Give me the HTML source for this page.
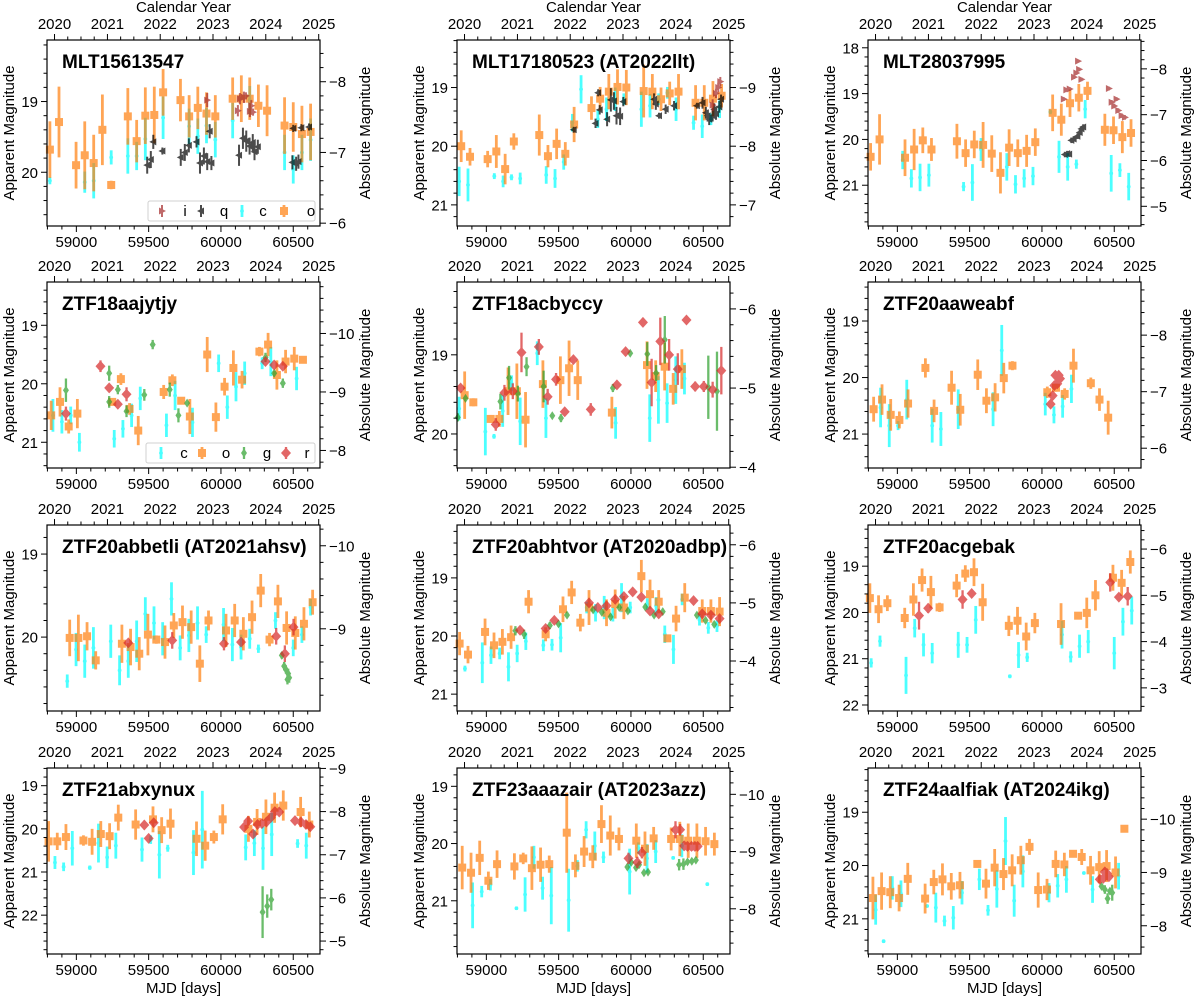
<!DOCTYPE html>
<html><head><meta charset="utf-8"><title>Light curves</title>
<style>
html,body{margin:0;padding:0;background:#fff;}
svg{display:block;font-family:"Liberation Sans","DejaVu Sans",sans-serif;}
</style></head>
<body>
<svg id="fig" xmlns="http://www.w3.org/2000/svg" width="1200" height="997" viewBox="0 0 1200 997"></svg>
<script>
// ---------- data: [MJD, apparent mag, error] ----------
const P1_o=[[58817,19.68,.4],[58880,19.29,.5],[58998,19.9,.33],[59058,19.76,.48],[59120,19.87,.4],[59180,19.4,.5],[59241,20.18,.06],[59356,19.21,.4],[59417,19.56,.3],[59477,19.2,.4],[59539,19.19,.4],[59600,18.87,.33],[59720,18.98,.3],[59780,19.21,.3],[59840,19.09,.3],[59900,19.17,.3],[59961,19.21,.3],[60081,18.96,.3],[60141,18.96,.33],[60199,18.96,.3],[60259,19.06,.3],[60319,19.13,.36],[60440,19.34,.4],[60500,19.36,.35],[60560,19.46,.4],[60620,19.43,.4]];
const P1_c=[[58817,20.12,.05],[59058,20.14,.15],[59120,20.12,.25],[59241,19.79,.1],[59356,19.77,.25],[59417,19.77,.2],[59477,19.53,.3],[59600,19.23,.3],[59780,19.35,.25],[59840,19.49,.25],[59900,19.34,.25],[59961,19.54,.25],[60081,19.27,.25],[60199,18.98,.2],[60440,19.72,.25],[60500,19.96,.2],[60560,19.72,.25],[60620,19.54,.3]];
const P1_q=[[59490,19.9,.12],[59515,19.82,.12],[59532,19.57,.1],[59595,19.7,.05],[59722,19.79,.12],[59750,19.72,.12],[59778,19.62,.1],[59831,19.57,.08],[59855,19.87,.15],[59882,19.77,.12],[59905,19.85,.12],[59922,19.42,.1],[59934,19.87,.1],[60125,19.76,.15],[60152,19.52,.15],[60175,19.56,.15],[60198,19.63,.12],[60220,19.58,.12],[60232,19.71,.12],[60255,19.64,.1],[60494,19.86,.1],[60520,19.88,.1],[60536,19.85,.1],[60500,19.38,.05],[60556,19.37,.05],[60609,19.36,.05]];
const P1_i=[[59905,18.98,.1],[60117,19.13,.08],[60131,18.96,.08],[60159,18.94,.08],[60173,18.92,.05],[60200,19.14,.08],[60222,19.15,.05],[60210,19.06,.08]];

const P2_o=[[58826,20.0,.27],[58887,20.18,.15],[59009,20.22,.14],[59069,20.09,.28],[59130,20.39,.26],[59190,19.92,.14],[59366,19.81,.35],[59426,20.17,.19],[59486,19.96,.26],[59546,20.13,.2],[59607,19.63,.3],[59727,19.35,.2],[59787,19.19,.2],[59847,19.07,.3],[59907,18.99,.3],[59968,19.0,.3],[60088,19.06,.45],[60148,19.07,.3],[60208,19.2,.2],[60268,19.1,.2],[60329,19.07,.3],[60447,19.26,.3],[60507,19.26,.3],[60567,19.19,.3],[60627,19.14,.2]];
const P2_c=[[58812,20.6,.25],[58873,20.66,.28],[59055,20.51,.05],[59116,20.6,.1],[59174,20.53,.05],[59234,20.55,.1],[59414,20.49,.15],[59475,20.55,.16],[59535,20.27,.13],[59595,19.6,.15],[59655,19.03,.24],[59771,19.54,.15],[59831,19.37,.2],[59891,19.2,.2],[59951,19.2,.1],[60072,19.37,.3],[60132,19.31,.2],[60192,19.2,.1],[60252,19.09,.1],[60312,19.37,.2],[60433,19.6,.12],[60493,19.66,.2],[60553,19.54,.1],[60613,19.37,.15]];
const P2_q=[[59604,19.72,.05],[59755,19.61,.08],[59773,19.09,.06],[59784,19.38,.08],[59835,19.54,.12],[59861,19.21,.2],[59882,19.23,.15],[59900,19.48,.15],[59925,19.49,.15],[59947,19.24,.08],[60160,19.2,.1],[60172,19.28,.1],[60194,19.48,.05],[60240,19.37,.08],[60298,19.31,.08],[60456,19.31,.05],[60495,19.26,.1],[60518,19.43,.1],[60530,19.48,.1],[60541,19.54,.1],[60565,19.48,.1],[60576,19.37,.1],[60588,19.45,.1],[60611,19.33,.1],[60623,19.2,.08]];
const P2_i=[[60565,19.3,.1],[60588,19.1,.08],[60604,19.0,.08],[60618,18.9,.08]];

const P3_o=[[58815,20.38,.3],[58877,20.0,.55],[59053,20.4,.4],[59116,20.22,.45],[59176,20.02,.28],[59236,20.22,.25],[59412,20.04,.38],[59472,20.3,.3],[59532,20.11,.3],[59593,20.12,.5],[59653,20.31,.4],[59713,20.73,.45],[59773,20.18,.4],[59833,20.3,.3],[59894,20.25,.35],[59954,20.06,.3],[60074,19.42,.4],[60134,19.57,.35],[60194,19.21,.3],[60255,19.09,.3],[60315,18.94,.2],[60435,19.79,.35],[60495,19.8,.3],[60556,19.95,.35],[60616,19.86,.3]];
const P3_c=[[59037,20.45,.2],[59097,20.85,.2],[59157,20.83,.3],[59218,20.78,.25],[59458,21.03,.1],[59519,20.94,.4],[59579,20.22,.25],[59757,20.6,.3],[59817,20.98,.2],[59877,20.85,.2],[59938,20.8,.2],[60058,19.4,.05],[60118,20.38,.35],[60178,20.6,.3],[60238,20.54,.1],[60299,19.34,.2],[60479,20.74,.4],[60539,20.67,.15],[60600,21.03,.3]];
const P3_q=[[60158,20.33,.06],[60174,20.31,.06],[60188,20.32,.06],[60203,20.02,.06],[60219,19.99,.06],[60245,19.93,.06],[60261,19.85,.06],[60273,19.77,.06],[60285,19.73,.06]];
const P3_i=[[60151,19.12,.04],[60169,18.92,.04],[60192,18.9,.04],[60222,18.64,.04],[60238,18.55,.04],[60250,18.29,.03],[60257,18.47,.04],[60273,18.69,.04],[60463,18.89,.04],[60482,19.19,.05],[60500,19.27,.05],[60516,19.12,.04],[60528,19.37,.05],[60551,19.48,.05],[60574,19.52,.05]];

const P4_c=[[58838,20.54,.28],[58900,20.65,.2],[58961,20.54,.15],[59021,21.0,.16],[59262,20.94,.15],[59322,20.77,.15],[59382,20.54,.2],[59442,20.25,.2],[59623,20.71,.2],[59683,20.2,.25],[59803,20.66,.25],[59984,19.65,.15],[60044,20.4,.2],[60104,20.05,.25],[60164,19.82,.2],[60285,19.65,.1],[60345,19.62,.25],[60523,19.91,.2]];
const P4_o=[[58826,20.54,.25],[58887,20.31,.25],[58947,20.73,.12],[59007,20.51,.25],[59248,20.31,.05],[59308,19.92,.1],[59368,20.43,.1],[59428,20.8,.25],[59604,20.14,.12],[59664,19.94,.1],[59725,20.29,.03],[59785,20.56,.3],[59905,19.5,.3],[59965,20.57,.25],[60025,20.05,.15],[60086,19.73,.3],[60146,19.93,.15],[60266,19.45,.08],[60326,19.33,.2],[60387,19.85,.25],[60447,19.62,.2],[60507,19.57,.2],[60567,19.59,.03]];
const P4_g=[[58928,20.11,.2],[59227,19.82,.13],[59227,20.31,.1],[59287,20.1,.08],[59347,20.47,.1],[59470,20.19,.1],[59528,19.33,.08],[59646,20.1,.12],[59706,20.54,.12],[59766,20.33,.03],[60308,19.55,.08],[60368,19.82,.05],[60428,19.99,.08]];
const P4_r=[[58928,20.51,.12],[59167,19.7,.1],[59227,20.07,.05],[59287,20.35,.05],[59347,20.18,.12],[60308,19.62,.05],[60368,19.68,.05],[60428,19.7,.07]];

const P5_r=[[58822,19.42,.05],[59065,19.88,.08],[59125,19.48,.1],[59183,19.46,.1],[59243,18.97,.25],[59363,18.9,.1],[59424,19.53,.1],[59482,19.31,.08],[59542,19.72,.05],[59602,19.06,.05],[59722,19.69,.08],[59903,19.38,.05],[59963,18.96,.05],[60083,18.59,.05],[60143,19.35,.3],[60203,18.83,.3],[60264,19.0,.2],[60324,19.18,.2],[60384,18.56,.05],[60444,19.4,.06],[60504,19.4,.07],[60565,19.44,.1],[60625,19.2,.3]];
const P5_o=[[58850,19.51,.3],[58910,19.6,.05],[59030,19.81,.05],[59090,19.81,.1],[59150,19.46,.3],[59211,19.46,.35],[59271,19.82,.35],[59391,19.37,.3],[59512,19.32,.3],[59572,19.17,.35],[59632,19.32,.25],[59868,19.73,.2],[60111,19.13,.3],[60171,19.27,.2],[60233,19.15,.3],[60292,19.43,.2],[60352,19.18,.25]];
const P5_g=[[58803,19.79,.05],[58856,19.55,.03],[59097,19.59,.1],[59157,19.29,.15],[59218,19.49,.1],[59278,19.15,.12],[59396,19.4,.2],[59456,19.77,.03],[59516,19.8,.05],[59875,19.42,.05],[59995,18.98,.03],[60113,18.99,.15],[60174,19.23,.1],[60234,18.81,.3],[60535,19.41,.4],[60595,19.46,.5]];
const P5_c=[[58812,19.68,.15],[58993,19.97,.3],[59053,20.03,.03],[59113,19.71,.2],[59174,19.36,.1],[59234,19.84,.3],[59352,18.98,.15],[59412,19.8,.25],[59894,19.86,.2],[60130,19.8,.3],[60190,19.57,.3],[60250,19.61,.25],[60310,19.32,.3],[60370,19.3,.2]];

const P6_o=[[58836,20.56,.22],[58894,20.39,.27],[58954,20.66,.28],[59014,20.75,.15],[59074,20.46,.25],[59194,19.83,.17],[59254,20.59,.2],[59375,20.18,.3],[59435,20.57,.28],[59556,19.95,.27],[59616,20.41,.22],[59676,20.35,.25],[59736,20.01,.27],[59796,19.79,.08],[60037,20.26,.1],[60097,20.18,.07],[60157,20.29,.1],[60218,19.79,.3],[60338,20.1,.1],[60398,20.39,.2],[60458,20.71,.3]];
const P6_c=[[58884,20.53,.35],[58944,20.85,.38],[59005,20.85,.08],[59065,20.39,.35],[59241,20.85,.3],[59301,20.91,.3],[59421,20.56,.35],[59662,20.56,.3],[59722,19.52,.45],[60023,20.47,.2],[60083,20.66,.15],[60143,20.51,.2],[60204,20.2,.25]];
const P6_r=[[60060,20.47,.03],[60074,20.32,.03],[60086,20.14,.03],[60093,19.96,.03],[60106,20.11,.03],[60116,19.96,.03],[60125,20.02,.03]];

const P7_o=[[58954,20.01,.22],[59014,20.01,.28],[59074,19.99,.17],[59134,20.28,.11],[59315,20.08,.23],[59375,20.12,.22],[59435,20.2,.2],[59495,19.97,.25],[59553,20.03,.05],[59613,20.06,.2],[59674,19.86,.15],[59734,19.82,.2],[59794,19.88,.2],[59854,20.32,.22],[59914,19.8,.12],[60035,19.92,.2],[60095,19.8,.2],[60155,19.96,.2],[60215,19.76,.2],[60275,19.44,.2],[60336,20.03,.08],[60394,19.57,.2],[60454,19.89,.2],[60514,19.95,.2],[60574,19.84,.2],[60634,19.58,.15]];
const P7_c=[[58937,20.53,.08],[58998,20.15,.2],[59058,20.29,.2],[59118,20.13,.25],[59238,20.05,.2],[59299,20.4,.18],[59359,20.29,.2],[59417,20.05,.25],[59477,19.72,.2],[59537,19.83,.2],[59597,20.02,.2],[59658,19.54,.2],[59718,20.13,.15],[59778,19.98,.2],[59838,19.83,.2],[59898,19.97,.1],[60018,19.85,.2],[60079,20.09,.2],[60139,20.12,.15],[60199,20.02,.12],[60259,20.14,.05],[60377,19.8,.1],[60500,20.13,.1],[60560,19.97,.1],[60620,19.64,.1]];
const P7_r=[[59359,20.07,.03],[59663,20.04,.1],[60021,20.08,.08],[60139,20.06,.05],[60382,19.99,.1],[60442,20.2,.1],[60502,19.88,.1]];
const P7_g=[[60421,20.22,.04],[60437,20.35,.05],[60449,20.39,.05],[60460,20.51,.06],[60465,20.44,.06],[60472,20.49,.06]];

const P8_o=[[58815,20.13,.2],[58873,20.32,.15],[58991,19.93,.23],[59053,20.16,.22],[59111,20.1,.22],[59171,20.02,.2],[59292,19.41,.2],[59410,19.97,.12],[59530,19.54,.22],[59590,19.25,.2],[59650,19.77,.15],[59710,19.51,.3],[59831,19.6,.23],[59891,19.45,.25],[59951,19.51,.2],[60072,18.97,.28],[60132,19.28,.25],[60192,19.41,.2],[60252,20.04,.05],[60312,19.7,.22],[60372,19.34,.25],[60493,19.57,.2],[60553,19.57,.2],[60613,19.58,.25]];
const P8_c=[[58852,20.56,.05],[58972,20.46,.35],[59032,20.33,.15],[59092,20.3,.1],[59153,20.53,.25],[59213,20.3,.15],[59273,20.09,.15],[59394,20.16,.1],[59454,20.15,.1],[59514,20.03,.25],[59694,19.51,.1],[59755,19.6,.15],[59815,19.51,.2],[59875,19.63,.12],[59935,19.34,.25],[59995,19.51,.1],[60113,19.45,.1],[60174,19.48,.15],[60234,19.97,.15],[60294,20.23,.25],[60354,19.37,.1],[60474,19.72,.1],[60535,19.86,.1],[60595,19.83,.1]];
const P8_g=[[59201,19.91,.08],[59261,19.97,.08],[59439,19.82,.06],[59499,19.79,.05],[59558,19.64,.05],[59738,19.55,.05],[59798,19.59,.05],[59859,19.67,.05],[59919,19.51,.03],[59979,19.57,.05],[60099,19.5,.03],[60160,19.64,.05],[60220,19.58,.05],[60456,19.64,.05],[60516,19.73,.05],[60576,19.8,.05]];
const P8_r=[[59233,19.9,.05],[59410,19.87,.05],[59470,19.73,.05],[59710,19.43,.05],[59771,19.51,.05],[59831,19.48,.05],[59891,19.37,.05],[59951,19.32,.05],[60012,19.24,.03],[60072,19.33,.05],[60132,19.57,.05],[60192,19.62,.05],[60433,19.39,.05],[60493,19.62,.05],[60553,19.64,.05],[60613,19.7,.05]];

const P9_o=[[58810,19.69,.32],[58870,19.93,.3],[58931,19.8,.17],[59051,20.12,.22],[59111,19.72,.35],[59171,19.3,.25],[59232,19.56,.35],[59292,19.89,.1],[59410,19.42,.25],[59470,19.16,.18],[59530,19.13,.3],[59590,19.78,.4],[59771,20.29,.22],[59831,20.18,.3],[59891,20.52,.3],[59951,20.23,.22],[60132,20.25,.45],[60250,20.07,.03],[60310,20.01,.33],[60370,19.63,.33],[60491,19.25,.28],[60551,19.36,.28],[60611,18.91,.25]];
const P9_c=[[58819,21.09,.1],[58880,20.62,.12],[59060,21.36,.4],[59120,20.34,.2],[59181,20.7,.25],[59241,20.88,.22],[59421,20.7,.28],[59482,20.7,.17],[59542,20.16,.3],[59778,21.38,.04],[59838,20.92,.28],[59898,20.97,.1],[60139,20.48,.3],[60199,20.96,.12],[60260,20.73,.25],[60320,20.63,.25],[60500,20.88,.35],[60560,20.2,.3],[60621,19.96,.3]];
const P9_r=[[59150,20.07,.3],[59213,19.91,.1],[59451,19.72,.2],[59514,19.59,.05],[60472,19.35,.2],[60532,19.67,.05],[60593,19.65,.2]];

const P10_o=[[58808,20.29,.47],[58868,20.29,.2],[58928,20.19,.3],[59049,20.27,.12],[59109,20.3,.3],[59169,20.12,.3],[59230,20.17,.3],[59290,19.74,.3],[59410,19.9,.35],[59530,19.78,.3],[59590,20.03,.3],[59651,19.88,.35],[59831,20.23,.4],[59891,20.39,.35],[59951,20.19,.15],[60012,19.78,.35],[60190,20.0,.3],[60250,19.84,.3],[60311,19.72,.4],[60371,19.51,.35],[60431,19.46,.35],[60551,19.61,.35],[60611,19.9,.3]];
const P10_c=[[58852,20.78,.15],[58912,20.88,.1],[58972,20.45,.4],[59093,20.9,.05],[59153,20.33,.45],[59213,20.66,.25],[59273,20.39,.3],[59454,20.48,.28],[59514,20.25,.1],[59574,20.6,.55],[59632,20.45,.08],[59810,20.55,.52],[59871,20.02,.9],[60171,20.43,.3],[60231,20.33,.3],[60291,20.45,.5],[60351,20.13,.5],[60530,20.34,.1],[60590,20.39,.3]];
const P10_r=[[59470,19.91,.1],[59500,20.22,.1],[59535,19.86,.08],[60160,19.96,.08],[60188,19.82,.1],[60222,20.12,.1],[60253,19.9,.1],[60283,19.88,.1],[60315,19.84,.1],[60345,19.74,.1],[60373,19.6,.1],[60403,19.61,.08],[60512,19.81,.07],[60553,19.84,.1],[60588,19.9,.1],[60618,19.95,.07]];
const P10_g=[[60288,21.93,.6],[60320,21.79,.27],[60348,21.64,.25]];

const P11_o=[[58833,20.42,.38],[58894,20.51,.35],[58954,20.25,.3],[59014,20.65,.16],[59074,20.36,.24],[59194,20.4,.23],[59255,20.26,.1],[59315,20.43,.38],[59375,20.37,.3],[59435,20.36,.15],[59556,19.81,.7],[59616,20.39,.2],[59676,20.14,.27],[59736,20.23,.2],[59796,19.66,.33],[59857,19.86,.35],[59917,19.92,.2],[60037,19.95,.3],[60097,20.09,.3],[60157,19.91,.2],[60278,19.92,.2],[60338,19.92,.3],[60396,19.95,.3],[60456,19.95,.3],[60516,19.96,.25],[60577,20.01,.2]];
const P11_c=[[58905,21.08,.4],[58968,20.84,.1],[59028,20.72,.1],[59208,21.13,.03],[59268,20.89,.3],[59329,20.24,.2],[59389,20.78,.2],[59449,20.91,.5],[59569,20.99,.55],[59630,20.39,.1],[59690,19.76,.15],[59750,20.04,.25],[59810,20.24,.1],[59991,20.49,.4],[60051,20.08,.1],[60111,20.26,.25],[60171,20.14,.2],[60292,20.25,.03],[60352,20.04,.2],[60528,20.71,.03]];
const P11_g=[[59975,20.41,.05],[60002,20.33,.05],[60035,20.42,.05],[60056,20.37,.05],[60090,20.51,.04],[60118,20.5,.04],[60333,20.37,.1],[60363,20.36,.1],[60391,20.32,.05],[60421,20.31,.05],[60449,20.29,.05]];
const P11_r=[[59983,20.26,.1],[60044,20.33,.1],[60076,20.16,.1],[60308,19.76,.15],[60340,19.76,.1],[60368,20.04,.08],[60391,20.05,.08],[60419,20.05,.08],[60442,20.05,.08],[60461,20.05,.05]];

const P12_o=[[58831,20.61,.4],[58891,20.48,.35],[58951,20.5,.3],[59012,20.61,.25],[59072,20.25,.3],[59192,20.62,.28],[59252,20.31,.23],[59312,20.26,.3],[59373,20.39,.25],[59433,20.37,.25],[59553,19.97,.03],[59613,20.34,.28],[59673,20.04,.35],[59734,20.16,.3],[59794,20.09,.3],[59854,19.9,.27],[59914,19.65,.15],[59974,20.46,.33],[60035,20.45,.2],[60095,19.97,.25],[60155,19.98,.22],[60215,19.78,.05],[60275,19.84,.15],[60336,20.09,.27],[60396,20.03,.3],[60447,20.01,.3],[60509,20.13,.3],[60570,19.31,.05]];
const P12_c=[[58850,20.83,.28],[58905,21.42,.03],[58965,20.42,.22],[59025,20.53,.25],[59206,20.76,.03],[59266,20.79,.28],[59326,21.04,.1],[59387,20.98,.22],[59447,20.51,.22],[59567,20.26,.2],[59627,20.84,.1],[59688,20.44,.35],[59748,19.54,.45],[59808,20.66,.3],[59868,20.11,.3],[60049,20.51,.18],[60109,20.38,.22],[60169,20.26,.25],[60290,20.14,.03],[60350,20.45,.25],[60530,20.2,.25]];
const P12_r=[[60400,20.26,.05],[60424,20.24,.05],[60435,20.12,.05],[60450,20.15,.05],[60463,20.21,.05]];
const P12_g=[[60412,20.39,.05],[60435,20.45,.08],[60454,20.62,.1],[60470,20.48,.05],[60486,20.51,.15]];

const panelNames=["MLT15613547","MLT17180523 (AT2022llt)","MLT28037995","ZTF18aajytjy","ZTF18acbyccy","ZTF20aaweabf","ZTF20abbetli (AT2021ahsv)","ZTF20abhtvor (AT2020adbp)","ZTF20acgebak","ZTF21abxynux","ZTF23aaazair (AT2023azz)","ZTF24aalfiak (AT2024ikg)"];
const panelSeries=[
 {c:P1_c,o:P1_o,q:P1_q,i:P1_i},{c:P2_c,o:P2_o,q:P2_q,i:P2_i},{c:P3_c,o:P3_o,q:P3_q,i:P3_i},
 {c:P4_c,o:P4_o,g:P4_g,r:P4_r},{c:P5_c,o:P5_o,g:P5_g,r:P5_r},{c:P6_c,o:P6_o,r:P6_r},
 {c:P7_c,o:P7_o,g:P7_g,r:P7_r},{c:P8_c,o:P8_o,g:P8_g,r:P8_r},{c:P9_c,o:P9_o,r:P9_r},
 {c:P10_c,o:P10_o,r:P10_r,g:P10_g},{c:P11_c,o:P11_o,g:P11_g,r:P11_r},{c:P12_c,o:P12_o,r:P12_r,g:P12_g}];
const yTop=[18.13,18.19,17.83,18.26,18.08,18.31,18.65,18.09,18.11,18.59,18.68,18.17];
const yBot=[20.76,21.36,21.89,21.44,20.43,21.6,20.89,21.29,22.13,22.9,21.93,21.66];
const absOff=[26.72,28.0,26.46,29.14,24.42,27.25,28.9,24.43,24.63,27.6,29.14,29.13];
const mjdTicks=[59000,59500,60000,60500];
const yearLabels=["2020","2021","2022","2023","2024","2025"];
const yearMJD=[58849,59215,59580,59945,60310,60676];

const NS="http://www.w3.org/2000/svg";
const svg=document.getElementById("fig");
const colL=[47,457,868], rowT=[40,282,525,768], W=273, H=186;
const X0=58797, X1=60685;
const COL={o:"#ff7f0e",c:"#00ffff",g:"#2ca02c",r:"#d62728",q:"#000000",i:"#a52a2a"};
const LW={o:2.8,c:2.8,g:2.3,r:2.3,q:2,i:2};
function mk(tag,at,parent){const e=document.createElementNS(NS,tag);for(const k in at)e.setAttribute(k,at[k]);(parent||svg).appendChild(e);return e;}
function txt(s,at,parent){const e=mk("text",at,parent);e.textContent=s;return e;}
function marker(b,x,y,g){
  const f=COL[b];let e;
  if(b==="o") e=mk("rect",{x:x-4,y:y-4,width:8,height:8,fill:f},g);
  else if(b==="c") e=mk("circle",{cx:x,cy:y,r:1.9,fill:f},g);
  else if(b==="r") e=mk("polygon",{points:`${x},${y-5.5} ${x+5},${y} ${x},${y+5.5} ${x-5},${y}`,fill:f},g);
  else if(b==="g") e=mk("polygon",{points:`${x},${y-4.5} ${x+3},${y} ${x},${y+4.5} ${x-3},${y}`,fill:f},g);
  else if(b==="q") e=mk("polygon",{points:`${x-4},${y} ${x+3},${y-3.5} ${x+3},${y+3.5}`,fill:f},g);
  else e=mk("polygon",{points:`${x+4},${y} ${x-3},${y-3.5} ${x-3},${y+3.5}`,fill:f},g);
  return e;
}
const order=["c","o","g","r","q","i"];
for(let p=0;p<12;p++){
  const L=colL[p%3],T=rowT[Math.floor(p/3)],R=L+W,B=T+H,row=Math.floor(p/3);
  const xs=m=>L+(m-X0)/(X1-X0)*W;
  const ys=v=>T+(v-yTop[p])/(yBot[p]-yTop[p])*H;
  const g=mk("g",{});
  
  
  const plot=mk("g",{},g);
  
  
  for(const b of order){
    const d=panelSeries[p][b]; if(!d) continue;
    const sg=mk("g",{opacity:0.7},plot);
    
    
    for(const [m,v,e] of d){
      const x=xs(m),y=ys(v);
      mk("line",{x1:x,x2:x,y1:ys(v-e),y2:ys(v+e),stroke:COL[b],"stroke-width":LW[b]},sg);
      marker(b,x,y,sg);
    }
  }
  const fr=mk("rect",{x:L,y:T,width:W,height:H,fill:"none",stroke:"#000","stroke-width":1.2},g);
  
  
  const tk={stroke:"#000","stroke-width":1};
  for(let m=58800;m<=60680;m+=100){const x=xs(m);const maj=m%500===0;mk("line",Object.assign({x1:x,x2:x,y1:B,y2:B+(maj?6:3.5)},tk),g);
    if(maj){const t=txt(String(m),{x:x,y:B+21,"font-size":15,"text-anchor":"middle"},g);}}
  for(let k=0;k<yearMJD.length;k++){const x=xs(yearMJD[k]);mk("line",Object.assign({x1:x,x2:x,y1:T,y2:T-6},tk),g);
    const t=txt(yearLabels[k],{x:x,y:T-11,"font-size":15,"text-anchor":"middle"},g);
    if(k<yearMJD.length-1){for(let q=1;q<4;q++){const xm=xs(yearMJD[k]+(yearMJD[k+1]-yearMJD[k])*q/4);mk("line",Object.assign({x1:xm,x2:xm,y1:T,y2:T-3.5},tk),g);}}
  }
  for(let v=Math.ceil(yTop[p]*5)/5;v<=yBot[p]+1e-6;v=Math.round((v+0.2)*10)/10){const y=ys(v);const maj=Math.abs(v-Math.round(v))<1e-6;
    mk("line",Object.assign({x1:L,x2:L-(maj?6:3.5),y1:y,y2:y},tk),g);
    if(maj){const t=txt(String(Math.round(v)),{x:L-9,y:y+5.5,"font-size":15,"text-anchor":"end"},g);}}
  const a0=yTop[p]-absOff[p],a1=yBot[p]-absOff[p];
  for(let v=Math.ceil(a0*5)/5;v<=a1+1e-6;v=Math.round((v+0.2)*10)/10){const y=ys(v+absOff[p]);const maj=Math.abs(v-Math.round(v))<1e-6;
    mk("line",Object.assign({x1:R,x2:R+(maj?6:3.5),y1:y,y2:y},tk),g);
    if(maj){const n=Math.round(v);const t=txt((n<0?"\u2212":"")+Math.abs(n),{x:R+9,y:y+5.5,"font-size":15},g);}}
  const yl=txt("Apparent Magnitude",{x:0,y:0,"font-size":15,"text-anchor":"middle",transform:`translate(${L-33},${T+H/2}) rotate(-90)`},g);
  
  
  const rl=txt("Absolute Magnitude",{x:0,y:0,"font-size":15,"text-anchor":"middle",transform:`translate(${R+50},${T+H/2}) rotate(-90)`},g);
  
  
  const tt=txt(panelNames[p],{x:L+15,y:T+28,"font-size":19,"font-weight":"bold"},g);
  
  
  if(row===0){const c=txt("Calendar Year",{x:L+W/2,y:12,"font-size":15,"text-anchor":"middle"},g);}
  if(row===3){const c=txt("MJD [days]",{x:L+W/2,y:993,"font-size":15,"text-anchor":"middle"},g);}
}
function legend(x,y,w,items){
  const g=mk("g",{});
  
  
  mk("rect",{x:x,y:y,width:w,height:20,rx:2,fill:"#fff","fill-opacity":0.85,stroke:"#d0d0d0","stroke-width":1},g);
  for(const [b,mx,tx] of items){
    const e=mk("g",{opacity:0.7},g);
    
    
    mk("line",{x1:mx,x2:mx,y1:y+4,y2:y+16,stroke:COL[b],"stroke-width":LW[b]},e);
    marker(b,mx,y+10,e);
    txt(b,{x:tx,y:y+15,"font-size":15,"text-anchor":"middle"},g);
  }
}
legend(148,201,167,[["i",162,185],["q",201,224],["c",242,263],["o",284,311]]);
legend(146,443,169,[["c",161,184],["o",202,226],["g",244,267],["r",286,307]]);
</script>
</body></html>
